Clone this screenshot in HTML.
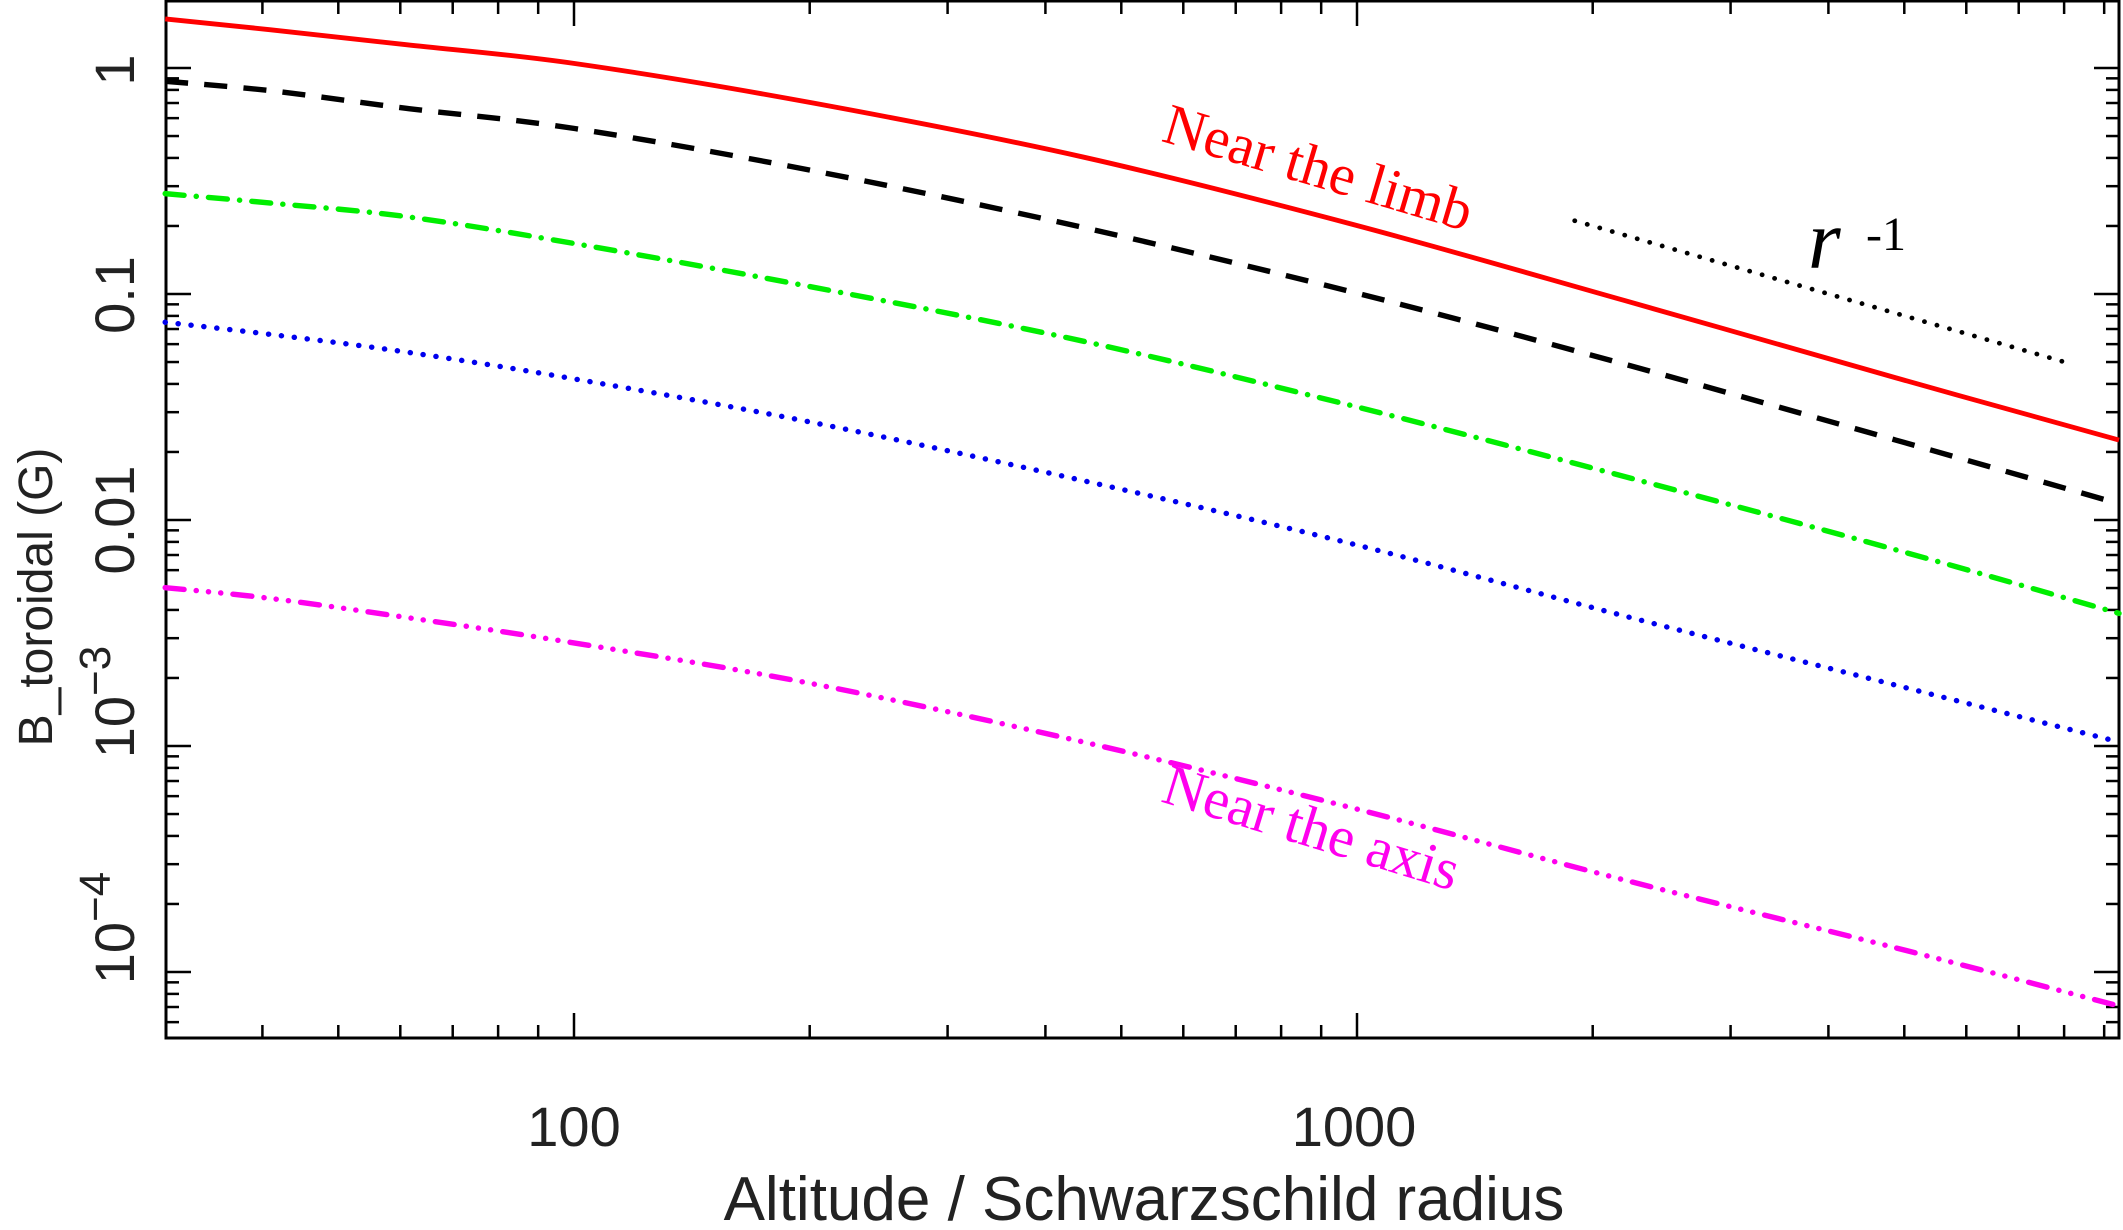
<!DOCTYPE html>
<html><head><meta charset="utf-8"><style>
html,body{margin:0;padding:0;background:#fff;}
svg{display:block}
</style></head><body>
<svg id="s" width="2123" height="1230" viewBox="0 0 2123 1230" xmlns="http://www.w3.org/2000/svg">
<rect x="0" y="0" width="2123" height="1230" fill="#fff"/>
<g id="ticks" stroke="#000" stroke-width="2.5"></g>
<rect x="166" y="1" width="1953" height="1037" fill="none" stroke="#000" stroke-width="3"/>
<g transform="scale(1.354)" fill="none" stroke-linejoin="round">
<path class="c" stroke="#ff0000" stroke-width="3.6" data-p="122,14 200,22 300,33 425,47 600,76 800,116 1000,166 1200,222 1400,279 1565,325"/>
<path class="c" stroke="#000" stroke-width="4" stroke-dasharray="17 12" data-p="122,60 200,67 300,80 425,95 600,126 800,168 1000,216 1200,269 1400,325 1565,372"/>
<path class="c" stroke="#00ee00" stroke-width="4" stroke-linecap="round" stroke-dasharray="14 9 0.1 9" data-p="122,143 200,150 300,160 425,180 600,212 800,252 1000,300 1200,352 1400,406 1565,453"/>
<path class="c" stroke="#0000ee" stroke-width="4" stroke-linecap="round" stroke-dasharray="0.1 9.5" data-p="122,238 200,247 300,260 425,280 600,312 800,355 1000,402 1200,455 1400,506 1565,548"/>
<path class="c" stroke="#ff00ee" stroke-width="4" stroke-linecap="round" stroke-dasharray="14 9 0.1 9 0.1 9 0.1 9" data-p="122,434 200,442 300,456 425,475 600,505 800,548 1000,597 1200,650 1400,700 1565,743"/>
<line x1="1163" y1="163" x2="1527" y2="268" stroke="#000" stroke-width="3.5" stroke-linecap="round" stroke-dasharray="0.1 9.5"/>
</g>
<g font-family="Liberation Serif, serif">
<text x="1313" y="186" font-size="58" fill="#ff0000" text-anchor="middle" transform="rotate(16.5 1313 186)">Near the limb</text>
<text x="1306" y="846" font-size="58" fill="#ff00ee" text-anchor="middle" transform="rotate(17 1306 846)">Near the axis</text>
<text x="1808" y="268" font-size="84" font-style="italic" fill="#000">r</text>
<text x="1866" y="250" font-size="48" fill="#000">-1</text>
</g>
<g font-family="Liberation Sans, sans-serif" font-size="56" fill="#222">
<text x="574" y="1146" text-anchor="middle">100</text>
<text x="1354" y="1146" text-anchor="middle">1000</text>
<text x="1144" y="1220" text-anchor="middle" font-size="62">Altitude / Schwarzschild radius</text>
<text transform="translate(134,70) rotate(-90)" text-anchor="middle">1</text>
<text transform="translate(134,295) rotate(-90)" text-anchor="middle">0.1</text>
<text transform="translate(134,520) rotate(-90)" text-anchor="middle">0.01</text>
<text transform="translate(134,702) rotate(-90)" text-anchor="middle">10<tspan dy="-24" font-size="44">−3</tspan></text>
<text transform="translate(134,928) rotate(-90)" text-anchor="middle">10<tspan dy="-24" font-size="44">−4</tspan></text>
<text transform="translate(52,597) rotate(-90)" text-anchor="middle" font-size="48">B_toroidal (G)</text>
</g>
</svg>
<script>
(function(){
var g=document.getElementById('ticks'),s='';
var L=166,R=2119,T=1,B=1038;
function X(v){return 574+783*Math.log10(v/100);}
function Y(v){return 68-226*Math.log10(v);}
for(var d=10;d<=10000;d*=10){for(var m=1;m<10;m++){var v=d*m,x=X(v);if(x<L||x>R)continue;var len=(m==1)?25:13;
s+='<line x1="'+x+'" y1="'+B+'" x2="'+x+'" y2="'+(B-len)+'"/><line x1="'+x+'" y1="'+T+'" x2="'+x+'" y2="'+(T+len)+'"/>';}}
for(var e=-5;e<=0;e++){for(var m=1;m<10;m++){var v=m*Math.pow(10,e),y=Y(v);if(y<T||y>B)continue;var len=(m==1)?25:13;
s+='<line x1="'+L+'" y1="'+y+'" x2="'+(L+len)+'" y2="'+y+'"/><line x1="'+R+'" y1="'+y+'" x2="'+(R-len)+'" y2="'+y+'"/>';}}
g.innerHTML=s;
var cs=document.querySelectorAll('path.c');
for(var i=0;i<cs.length;i++){
var p=cs[i].getAttribute('data-p').split(' ').map(function(t){return t.split(',').map(Number);});
var d='M'+p[0][0]+','+p[0][1];
for(var k=0;k<p.length-1;k++){
var p0=p[k-1]||p[k],p1=p[k],p2=p[k+1],p3=p[k+2]||p2;
var c1x=p1[0]+(p2[0]-p0[0])/6,c1y=p1[1]+(p2[1]-p0[1])/6;
var c2x=p2[0]-(p3[0]-p1[0])/6,c2y=p2[1]-(p3[1]-p1[1])/6;
d+=' C'+c1x+','+c1y+' '+c2x+','+c2y+' '+p2[0]+','+p2[1];}
cs[i].setAttribute('d',d);}
})();
</script>
</body></html>
